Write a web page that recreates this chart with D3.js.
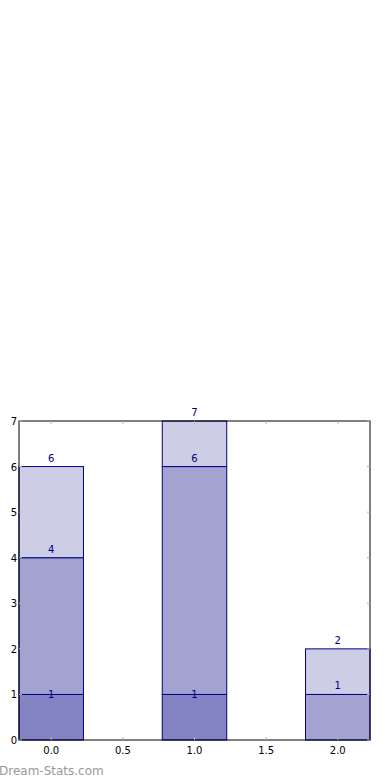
<!DOCTYPE html>
<html>
<head>
<meta charset="utf-8">
<script src="https://cdn.jsdelivr.net/npm/d3@7"></script>
<style>
  body { margin: 0; background: #fff; }
  svg { display: block; font-family: "DejaVu Sans", sans-serif; }
</style>
</head>
<body>
<div class="chart"></div>
<script>
// bar positions and stacked series (bottom to top)
const positions = [0, 1, 2]
const seriesDark = [1, 1, 0]
const seriesMid = [3, 5, 1]
const seriesLight = [2, 1, 1]
const xTicks = [0, 0.5, 1, 1.5, 2]
const yTicks = [0, 1, 2, 3, 4, 5, 6, 7]

const width = 390, height = 780
const barWidth = 0.45
const plot = { left: 19, right: 370, top: 421, bottom: 740 }

const x = d3.scaleLinear()
    .domain([-0.225, 2.225])
    .range([plot.left, plot.right])

const y = d3.scaleLinear()
    .domain([0, 7])
    .range([plot.bottom, plot.top])

const svg = d3.select(".chart")
    .append("svg")
    .attr("width", width)
    .attr("height", height)

const layers = [
    { values: seriesDark, fill: "#8484c4", labelDy: 4 },
    { values: seriesMid, fill: "#a3a3d2", labelDy: -5 },
    { values: seriesLight, fill: "#cdcde5", labelDy: -5 }
]

// cumulative stacking
const base = positions.map(() => 0)
layers.forEach(layer => {
    layer.segs = positions.map((p, i) => {
        const y0 = base[i]
        const y1 = y0 + layer.values[i]
        base[i] = y1
        return { p, y0, y1, v: layer.values[i] }
    }).filter(d => d.v > 0)
})

layers.forEach(layer => {
    svg.append("g").selectAll("rect")
        .data(layer.segs)
        .enter().append("rect")
        .attr("x", d => x(d.p - barWidth / 2))
        .attr("width", d => x(d.p + barWidth / 2) - x(d.p - barWidth / 2))
        .attr("y", d => y(d.y1))
        .attr("height", d => y(d.y0) - y(d.y1))
        .style("fill", layer.fill)
        .style("stroke", "#000080")
        .style("stroke-width", 1)
})

layers.forEach(layer => {
    svg.append("g").selectAll("text")
        .data(layer.segs)
        .enter().append("text")
        .attr("x", d => x(d.p))
        .attr("y", d => y(d.y1) + layer.labelDy)
        .attr("text-anchor", "middle")
        .style("font-size", "10px")
        .style("fill", "#000080")
        .text(d => d.y1)
})

// frame
svg.append("rect")
    .attr("x", plot.left)
    .attr("y", plot.top)
    .attr("width", plot.right - plot.left)
    .attr("height", plot.bottom - plot.top)
    .style("fill", "none")
    .style("stroke", "#000")
    .style("stroke-width", 1)

// ticks (inside, grey) on all four sides
const tickColor = "#b0b0b0"
svg.append("g").selectAll("line")
    .data(xTicks)
    .enter().append("line")
    .attr("x1", d => x(d)).attr("x2", d => x(d))
    .attr("y1", plot.bottom).attr("y2", plot.bottom - 3)
    .style("stroke", tickColor)
svg.append("g").selectAll("line")
    .data(xTicks)
    .enter().append("line")
    .attr("x1", d => x(d)).attr("x2", d => x(d))
    .attr("y1", plot.top).attr("y2", plot.top + 3)
    .style("stroke", tickColor)
svg.append("g").selectAll("line")
    .data(yTicks)
    .enter().append("line")
    .attr("x1", plot.left).attr("x2", plot.left + 3)
    .attr("y1", d => y(d)).attr("y2", d => y(d))
    .style("stroke", tickColor)
svg.append("g").selectAll("line")
    .data(yTicks)
    .enter().append("line")
    .attr("x1", plot.right).attr("x2", plot.right - 3)
    .attr("y1", d => y(d)).attr("y2", d => y(d))
    .style("stroke", tickColor)

svg.append("g").selectAll("text")
    .data(xTicks)
    .enter().append("text")
    .attr("x", d => x(d))
    .attr("y", plot.bottom + 14)
    .attr("text-anchor", "middle")
    .style("font-size", "10px")
    .style("fill", "#000")
    .text(d => d.toFixed(1))

svg.append("g").selectAll("text")
    .data(yTicks)
    .enter().append("text")
    .attr("x", plot.left - 2)
    .attr("y", d => y(d) + 4)
    .attr("text-anchor", "end")
    .style("font-size", "10px")
    .style("fill", "#000")
    .text(d => d)

svg.append("text")
    .attr("x", -1)
    .attr("y", 775)
    .style("font-size", "12px")
    .style("fill", "#999")
    .text("Dream-Stats.com")
</script>
</body>
</html>
